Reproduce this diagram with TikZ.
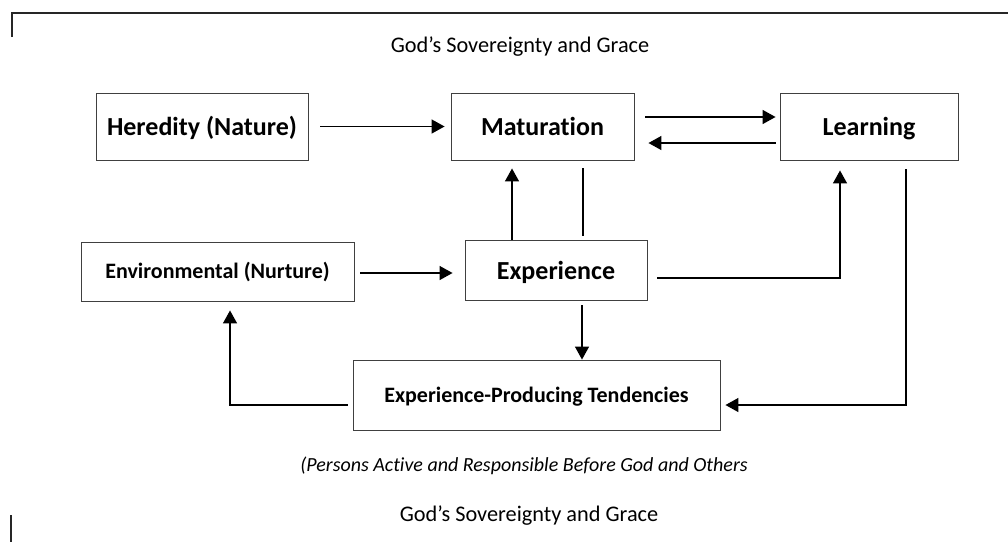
\documentclass[tikz,border=0pt]{standalone}
\usepackage{fontspec}
\setmainfont{Carlito}[Ligatures=NoCommon]
\usetikzlibrary{positioning,arrows.meta}

\begin{document}
\begin{tikzpicture}[x=1pt,y=-1pt,
  box/.style={draw=black!75,line width=0.9pt,inner sep=0pt,align=center,text depth=0pt},
  bigbox/.style={box,text height=18pt,font=\fontsize{26}{31}\selectfont\bfseries},
  smallbox/.style={box,text height=14pt,font=\fontsize{22}{26}\selectfont\bfseries},
  flow/.style={line width=1.5pt,-{Triangle[length=13pt,width=14pt]}},
  link/.style={line width=1.5pt},
  title/.style={font=\fontsize{22.3}{26}\selectfont}]

  \useasboundingbox (0,0) rectangle (1008,542);

  % --- frame lines ---
  \draw[line width=1.8pt,black!85] (12,37) -- (12,13) -- (1008,13);
  \draw[line width=1.6pt,black!85] (11,515) -- (11,542);

  % --- titles ---
  \node[title] (topt) at (520,47) {God’s Sovereignty and Grace};
  \node[font=\fontsize{20}{24}\selectfont\itshape] (note) at (524,466)
    {(Persons Active and Responsible Before God and Others};
  \node[title] (bott) at (529,516) {God’s Sovereignty and Grace};

  % --- top row ---
  \node[bigbox,minimum width=212pt,minimum height=67pt] (hered) at (202,126.5) {Heredity (Nature)};
  \node[bigbox,minimum width=183pt,minimum height=67pt] (matur) at (542.5,126.5) {Maturation};
  \node[bigbox,minimum width=178pt,minimum height=67pt] (learn) at (869,126.5) {Learning};

  % --- middle row ---
  \node[smallbox,minimum width=273pt,minimum height=59pt] (envir) at (217.5,271.5) {Environmental (Nurture)};
  \node[bigbox,minimum width=182pt,minimum height=60pt] (exper) at (556,270) {Experience};

  % --- bottom row ---
  \node[smallbox,minimum width=367pt,minimum height=70pt] (tend) at (536.5,395) {Experience-Producing Tendencies};

  % --- connectors ---
  \draw[flow] ([xshift=12pt]hered.east) -- ([xshift=-6pt]matur.west);
  \draw[flow] ([xshift=11pt,yshift=9.5pt]matur.east) -- ([xshift=-4pt,yshift=9.5pt]learn.west);
  \draw[flow] ([xshift=-4pt,yshift=-16.5pt]learn.west) -- ([xshift=14pt,yshift=-16.5pt]matur.east);
  \draw[flow] ([xshift=-44pt]exper.north) -- ([xshift=-30.5pt,yshift=-8pt]matur.south);
  \draw[link] ([xshift=40.5pt,yshift=-8pt]matur.south) -- ([xshift=27pt,yshift=4pt]exper.north);
  \draw[flow] ([xshift=26pt,yshift=-5pt]exper.south) -- ([xshift=45.5pt]tend.north);
  \draw[flow] ([xshift=6pt,yshift=-1.5pt]envir.east) -- ([xshift=-12pt,yshift=-3pt]exper.west);
  \draw[flow] ([xshift=10pt,yshift=-8pt]exper.east) -| ([xshift=-29pt,yshift=-10pt]learn.south);
  \draw[flow] ([xshift=37pt,yshift=-9pt]learn.south) |- ([xshift=5pt,yshift=-10pt]tend.east);
  \draw[flow] ([xshift=-5pt,yshift=-10pt]tend.west) -| ([xshift=12.5pt,yshift=-9pt]envir.south);
\end{tikzpicture}
\end{document}
